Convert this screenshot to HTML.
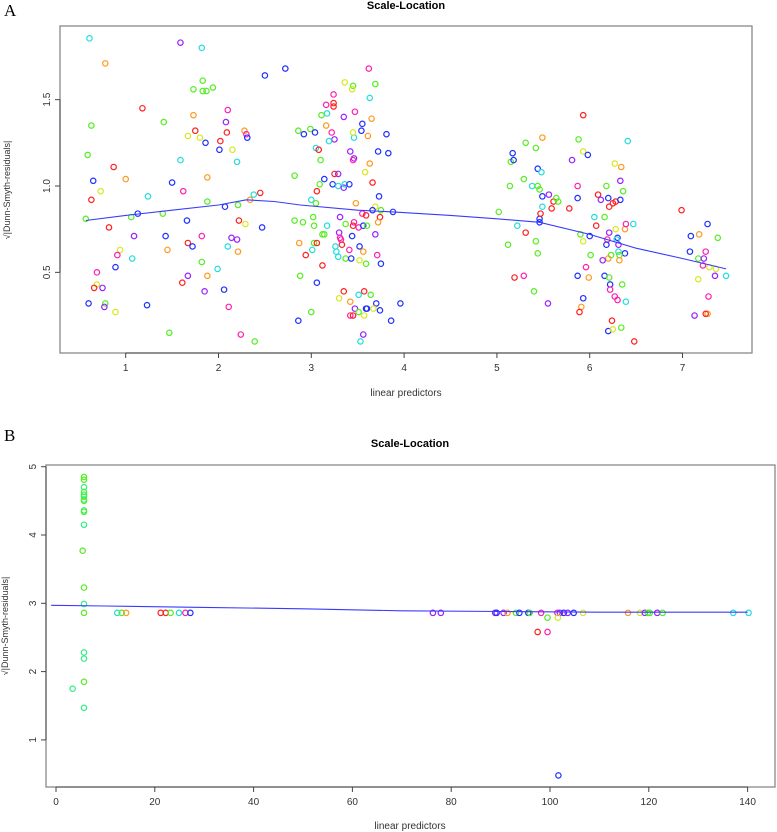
<!DOCTYPE html>
<html><head><meta charset="utf-8"><style>
html,body{margin:0;padding:0;background:#fff;}
svg{display:block;font-family:"Liberation Sans",Arial,sans-serif;}
</style></head><body>
<svg id="chart" width="777" height="832" viewBox="0 0 777 832" xmlns="http://www.w3.org/2000/svg">
<rect width="777" height="832" fill="#fff"/>
<text x="4" y="16" font-family="Liberation Serif,serif" font-size="17">A</text>
<text x="406" y="9" font-size="11" font-weight="bold" text-anchor="middle">Scale-Location</text>
<text transform="translate(10,190) rotate(-90)" font-size="9" text-anchor="middle" fill="#333">√|Dunn-Smyth-residuals|</text>
<text x="406" y="396" font-size="10" text-anchor="middle" fill="#333">linear predictors</text>
<text x="4" y="441" font-family="Liberation Serif,serif" font-size="17">B</text>
<text x="410" y="447" font-size="11" font-weight="bold" text-anchor="middle">Scale-Location</text>
<text transform="translate(8,626) rotate(-90)" font-size="9" text-anchor="middle" fill="#333">√|Dunn-Smyth-residuals|</text>
<text x="410" y="829" font-size="10" text-anchor="middle" fill="#333">linear predictors</text>
<g id="pa"></g><g id="pb"></g>
</svg>
<script>
const aXTicks=[1,2,3,4,5,6,7];
const aYTicks=[0.5,1.0,1.5];
const aYTickLabels=["0.5","1.0","1.5"];
const bXTicks=[0,20,40,60,80,100,120,140];
const bYTicks=[1,2,3,4,5];
const aLowessX=[0.57,1.0,1.5,2.0,2.3,2.6,2.88,3.5,3.88,4.5,5.0,5.46,6.0,6.5,7.0,7.47];
const aLowessY=[0.80,0.83,0.86,0.89,0.92,0.91,0.89,0.86,0.85,0.83,0.81,0.79,0.72,0.64,0.58,0.52];
const bLowessX=[-1,10,30,50,70,90,110,140];
const bLowessY=[2.97,2.96,2.94,2.92,2.89,2.88,2.87,2.87];
const aPoints=[[0.61,1.855,'c'],[1.59,1.83,'p'],[1.82,1.80,'c'],[0.78,1.71,'o'],[2.72,1.68,'b'],[2.50,1.64,'b'],[1.83,1.61,'g'],[1.73,1.56,'g'],[1.83,1.55,'g'],[1.87,1.55,'g'],[1.94,1.57,'g'],[1.18,1.45,'r'],[2.10,1.44,'m'],[1.41,1.37,'g'],[0.63,1.35,'g'],[2.08,1.37,'p'],[1.73,1.41,'o'],[1.75,1.32,'r'],[2.28,1.32,'o'],[2.30,1.30,'m'],[2.09,1.31,'r'],[2.31,1.28,'b'],[1.67,1.29,'y'],[1.80,1.28,'y'],[1.86,1.25,'b'],[2.02,1.26,'r'],[2.01,1.21,'b'],[2.15,1.21,'y'],[0.59,1.18,'g'],[1.59,1.15,'c'],[2.20,1.14,'c'],[0.87,1.11,'r'],[1.00,1.04,'o'],[0.65,1.03,'b'],[1.50,1.02,'b'],[1.88,1.05,'o'],[0.73,0.97,'y'],[1.62,0.97,'m'],[1.24,0.94,'c'],[0.63,0.92,'r'],[1.88,0.91,'g'],[2.38,0.95,'c'],[2.45,0.96,'r'],[2.34,0.92,'o'],[2.07,0.88,'b'],[2.21,0.89,'g'],[0.57,0.81,'g'],[1.06,0.82,'g'],[1.13,0.84,'b'],[1.40,0.84,'g'],[1.66,0.80,'b'],[2.22,0.80,'r'],[2.29,0.78,'y'],[2.47,0.76,'b'],[0.82,0.76,'r'],[1.09,0.71,'p'],[1.43,0.71,'b'],[1.82,0.71,'m'],[2.14,0.70,'p'],[2.20,0.69,'p'],[1.67,0.67,'r'],[1.72,0.65,'b'],[2.10,0.65,'c'],[1.45,0.63,'o'],[0.94,0.63,'y'],[2.21,0.62,'o'],[0.91,0.60,'m'],[1.07,0.58,'c'],[1.82,0.56,'g'],[0.89,0.53,'b'],[1.99,0.52,'c'],[0.69,0.50,'m'],[1.67,0.48,'p'],[1.88,0.48,'o'],[1.61,0.44,'r'],[0.69,0.43,'y'],[0.66,0.41,'r'],[0.75,0.41,'p'],[2.06,0.40,'b'],[1.85,0.39,'p'],[0.60,0.32,'b'],[0.78,0.32,'g'],[0.77,0.30,'p'],[1.23,0.31,'b'],[2.11,0.30,'m'],[0.89,0.27,'y'],[1.47,0.15,'g'],[2.24,0.14,'m'],[2.39,0.10,'g'],[2.86,0.22,'b'],[2.86,1.32,'g'],[2.82,1.06,'g'],[2.82,0.80,'g'],[2.87,0.67,'o'],
[3.62,1.68,'m'],[3.36,1.60,'y'],[3.45,1.58,'g'],[3.44,1.56,'y'],[3.69,1.59,'g'],[3.63,1.51,'c'],[3.24,1.53,'m'],[3.16,1.47,'m'],[3.24,1.48,'r'],[3.24,1.46,'r'],[3.17,1.42,'c'],[3.11,1.41,'g'],[3.35,1.40,'p'],[3.47,1.43,'m'],[3.65,1.39,'o'],[3.16,1.35,'o'],[3.55,1.36,'b'],[3.54,1.32,'b'],[2.99,1.33,'g'],[3.04,1.31,'b'],[2.92,1.30,'b'],[3.22,1.31,'m'],[3.25,1.27,'p'],[3.19,1.26,'c'],[3.46,1.28,'c'],[3.45,1.31,'y'],[3.61,1.29,'o'],[3.81,1.30,'b'],[3.83,1.19,'b'],[3.72,1.20,'b'],[3.05,1.22,'c'],[3.08,1.21,'r'],[3.42,1.20,'p'],[3.46,1.16,'p'],[3.45,1.15,'m'],[3.10,1.15,'g'],[3.63,1.13,'o'],[3.58,1.08,'y'],[3.25,1.07,'r'],[3.29,1.07,'p'],[3.66,1.02,'r'],[3.14,1.04,'b'],[3.23,1.01,'b'],[3.29,1.00,'c'],[3.35,0.99,'p'],[3.36,1.01,'c'],[3.41,1.01,'b'],[3.09,1.01,'g'],[3.06,0.97,'r'],[3.73,0.94,'b'],[3.00,0.92,'c'],[3.05,0.90,'g'],[3.48,0.90,'o'],[3.69,0.88,'y'],[3.66,0.86,'b'],[3.75,0.86,'g'],[3.88,0.85,'b'],[3.55,0.84,'m'],[3.59,0.83,'r'],[3.74,0.82,'r'],[3.31,0.82,'p'],[2.91,0.79,'g'],[3.02,0.82,'g'],[3.03,0.77,'g'],[3.17,0.77,'c'],[3.37,0.78,'g'],[3.46,0.79,'m'],[3.45,0.77,'r'],[3.51,0.76,'m'],[3.56,0.77,'b'],[3.60,0.77,'g'],[3.72,0.79,'o'],[3.12,0.72,'g'],[3.14,0.72,'g'],[3.30,0.73,'p'],[3.44,0.71,'b'],[3.69,0.72,'p'],[3.31,0.70,'m'],[3.32,0.69,'m'],[3.33,0.66,'r'],[3.03,0.67,'g'],[3.06,0.67,'r'],[3.26,0.65,'c'],[3.52,0.65,'b'],[3.41,0.63,'m'],[3.27,0.62,'c'],[3.56,0.62,'o'],[3.01,0.63,'c'],[2.94,0.60,'r'],[3.71,0.60,'m'],[3.29,0.59,'c'],[3.37,0.58,'g'],[3.43,0.58,'b'],[3.52,0.57,'y'],[3.59,0.55,'g'],[3.75,0.55,'b'],[3.12,0.54,'r'],[2.88,0.48,'g'],[3.06,0.44,'b'],[3.35,0.39,'r'],[3.57,0.39,'r'],[3.51,0.37,'c'],[3.64,0.37,'g'],[3.30,0.35,'y'],[3.42,0.33,'o'],[3.70,0.32,'b'],[3.96,0.32,'b'],[3.47,0.29,'p'],[3.59,0.29,'b'],[3.60,0.29,'b'],[3.67,0.29,'y'],[3.74,0.28,'b'],[3.51,0.27,'g'],[3.42,0.25,'m'],[3.45,0.25,'r'],[3.57,0.25,'y'],[3.00,0.27,'g'],[3.86,0.22,'b'],[3.56,0.14,'p'],[3.53,0.10,'c'],
[5.02,0.85,'g'],[5.12,0.66,'g'],[5.19,0.47,'r'],[5.29,0.48,'m'],[5.40,0.39,'g'],[5.14,1.00,'g'],[5.15,1.14,'g'],[5.18,1.15,'b'],[5.17,1.19,'b'],[5.31,1.25,'g'],[5.42,1.22,'g'],[5.49,1.28,'o'],[5.29,1.04,'g'],[5.38,1.00,'c'],[5.44,1.00,'g'],[5.46,0.98,'g'],[5.44,1.10,'b'],[5.48,1.08,'c'],[5.22,0.77,'c'],[5.31,0.73,'r'],[5.42,0.68,'g'],[5.44,0.61,'g'],[5.46,0.81,'b'],[5.46,0.79,'b'],[5.47,0.84,'r'],[5.49,0.94,'b'],[5.49,0.88,'c'],[5.56,0.95,'p'],[5.61,0.91,'r'],[5.59,0.87,'r'],[5.64,0.93,'g'],[5.66,0.91,'g'],[5.55,0.32,'p'],[5.78,0.87,'r'],[5.81,1.15,'p'],[5.88,1.27,'g'],[5.93,1.41,'r'],[5.93,1.20,'y'],[5.98,1.18,'b'],[5.87,1.00,'m'],[5.87,0.93,'b'],[5.90,0.72,'g'],[5.93,0.68,'y'],[6.00,0.71,'b'],[6.01,0.60,'g'],[5.96,0.53,'m'],[5.87,0.48,'b'],[5.99,0.47,'o'],[5.93,0.35,'b'],[5.91,0.30,'o'],[5.89,0.27,'r'],[6.05,0.82,'c'],[6.07,0.77,'r'],[6.16,0.82,'g'],[6.18,1.00,'g'],[6.09,0.95,'r'],[6.12,0.92,'p'],[6.20,0.93,'b'],[6.21,0.88,'r'],[6.25,0.90,'r'],[6.28,0.91,'r'],[6.33,0.92,'b'],[6.33,1.03,'p'],[6.36,0.97,'g'],[6.27,1.13,'y'],[6.34,1.11,'o'],[6.41,1.26,'c'],[6.21,0.73,'p'],[6.19,0.69,'m'],[6.18,0.66,'b'],[6.30,0.70,'b'],[6.29,0.69,'c'],[6.31,0.66,'p'],[6.31,0.62,'c'],[6.28,0.75,'y'],[6.38,0.75,'o'],[6.39,0.78,'m'],[6.47,0.78,'c'],[6.38,0.61,'b'],[6.32,0.60,'g'],[6.32,0.57,'o'],[6.23,0.60,'g'],[6.20,0.58,'o'],[6.14,0.57,'p'],[6.16,0.48,'b'],[6.21,0.47,'g'],[6.22,0.43,'b'],[6.22,0.40,'m'],[6.35,0.43,'g'],[6.27,0.36,'m'],[6.30,0.34,'m'],[6.39,0.33,'c'],[6.24,0.22,'r'],[6.20,0.16,'b'],[6.25,0.17,'y'],[6.34,0.18,'g'],[6.48,0.10,'r'],
[6.99,0.86,'r'],[7.09,0.71,'b'],[7.08,0.62,'b'],[7.18,0.72,'o'],[7.27,0.78,'b'],[7.38,0.70,'g'],[7.25,0.62,'m'],[7.17,0.58,'g'],[7.23,0.58,'p'],[7.22,0.54,'m'],[7.29,0.53,'y'],[7.36,0.52,'y'],[7.35,0.48,'p'],[7.47,0.48,'c'],[7.17,0.46,'y'],[7.28,0.36,'m'],[7.27,0.26,'o'],[7.25,0.26,'r'],[7.13,0.25,'p']];
const bPoints=[[5.67,4.85,'g'],[5.67,4.81,'g'],[5.67,4.70,'h'],[5.67,4.63,'g'],[5.67,4.59,'h'],[5.67,4.56,'g'],[5.67,4.52,'h'],[5.67,4.50,'g'],[5.67,4.36,'h'],[5.67,4.34,'g'],[5.67,4.15,'h'],[5.4,3.77,'g'],[5.67,3.23,'g'],[5.67,2.99,'h'],[5.67,2.86,'g'],[5.67,2.28,'h'],[5.67,2.19,'h'],[5.67,1.85,'g'],[5.67,1.47,'h'],[3.37,1.75,'h'],
[12.4,2.86,'c'],[13.3,2.86,'g'],[14.2,2.86,'o'],[21.2,2.86,'r'],[22.2,2.86,'r'],[23.2,2.86,'g'],[24.9,2.86,'c'],[26.2,2.86,'m'],[27.2,2.86,'b'],
[76.3,2.86,'p'],[77.9,2.86,'p'],[88.9,2.86,'p'],[89.2,2.86,'b'],[90.6,2.86,'p'],[91.4,2.86,'o'],[93.1,2.86,'g'],[93.8,2.86,'b'],[95.6,2.86,'b'],[95.9,2.86,'g'],[98.2,2.86,'m'],[101.5,2.86,'m'],[102.0,2.86,'p'],[102.8,2.86,'b'],[103.6,2.86,'p'],[104.8,2.86,'b'],[106.7,2.86,'y'],[115.8,2.86,'o'],[118.2,2.86,'y'],[119.2,2.86,'p'],[119.8,2.86,'g'],[120.2,2.86,'g'],[121.7,2.86,'p'],[122.8,2.86,'g'],[137.1,2.86,'c'],[140.2,2.86,'c'],
[99.5,2.79,'g'],[101.6,2.79,'y'],[97.5,2.58,'r'],[99.5,2.58,'m'],[101.7,0.48,'b']];
const colors={r:'#ff2020',o:'#ff9a20',y:'#d8e820',g:'#55ee22',h:'#33ee88',c:'#22dddd',b:'#2030ff',p:'#9a20ff',m:'#ff20b0'};
const NS='http://www.w3.org/2000/svg';
function mk(parent,tag,attrs){const e=document.createElementNS(NS,tag);for(const k in attrs)e.setAttribute(k,attrs[k]);parent.appendChild(e);return e;}
function panel(g,cfg){
  const sx=v=>cfg.x0px+(v-cfg.x0)*cfg.xs, sy=v=>cfg.y0px-(v-cfg.y0)*cfg.ys;
  const box=mk(g,'rect',{x:cfg.L,y:cfg.T,width:cfg.R-cfg.L,height:cfg.B-cfg.T,fill:'none',stroke:'#888','stroke-width':1.3});
  
  
  cfg.xt.forEach(v=>{const x=sx(v);
    const t=mk(g,'line',{x1:x,x2:x,y1:cfg.B,y2:cfg.B+5,stroke:'#444'});
    
    
    const l=mk(g,'text',{x:x,y:cfg.B+18,'font-size':10,'text-anchor':'middle',fill:'#333'});l.textContent=v;
    
    });
  mk(g,'line',{x1:sx(cfg.xt[0]),x2:sx(cfg.xt[cfg.xt.length-1]),y1:cfg.B,y2:cfg.B,stroke:'#444'});
  cfg.yt.forEach((v,i)=>{const y=sy(v);
    const t=mk(g,'line',{x1:cfg.L-5,x2:cfg.L,y1:y,y2:y,stroke:'#444'});
    
    
    const l=mk(g,'text',{'font-size':10,'text-anchor':'middle',fill:'#333',transform:`translate(${cfg.L-10},${y}) rotate(-90)`});l.textContent=cfg.ytl[i];
    
    });
  mk(g,'line',{x1:cfg.L,x2:cfg.L,y1:sy(cfg.yt[0]),y2:sy(cfg.yt[cfg.yt.length-1]),stroke:'#444'});
  cfg.pts.forEach(p=>{const c=mk(g,'circle',{cx:sx(p[0]),cy:sy(p[1]),r:2.7,fill:'none',stroke:colors[p[2]],'stroke-width':1.2});
    
    });
  const d=cfg.lx.map((v,i)=>(i?'L':'M')+sx(v).toFixed(1)+','+sy(cfg.ly[i]).toFixed(1)).join('');
  const pl=mk(g,'path',{d:d,fill:'none',stroke:'#3a3aff','stroke-width':1.1});
  
  
}
panel(document.getElementById('pa'),{id:'panel-a',L:60,R:752,T:26,B:353,x0:1,x0px:125.7,xs:92.8,y0:1,y0px:186,ys:172.7,xt:aXTicks,yt:aYTicks,ytl:aYTickLabels,pts:aPoints,lx:aLowessX,ly:aLowessY});
panel(document.getElementById('pb'),{id:'panel-b',L:46,R:775,T:465,B:787,x0:0,x0px:56,xs:4.94,y0:3,y0px:603.3,ys:68.3,xt:bXTicks,yt:bYTicks,ytl:bYTicks.map(String),pts:bPoints,lx:bLowessX,ly:bLowessY});
</script>
</body></html>
